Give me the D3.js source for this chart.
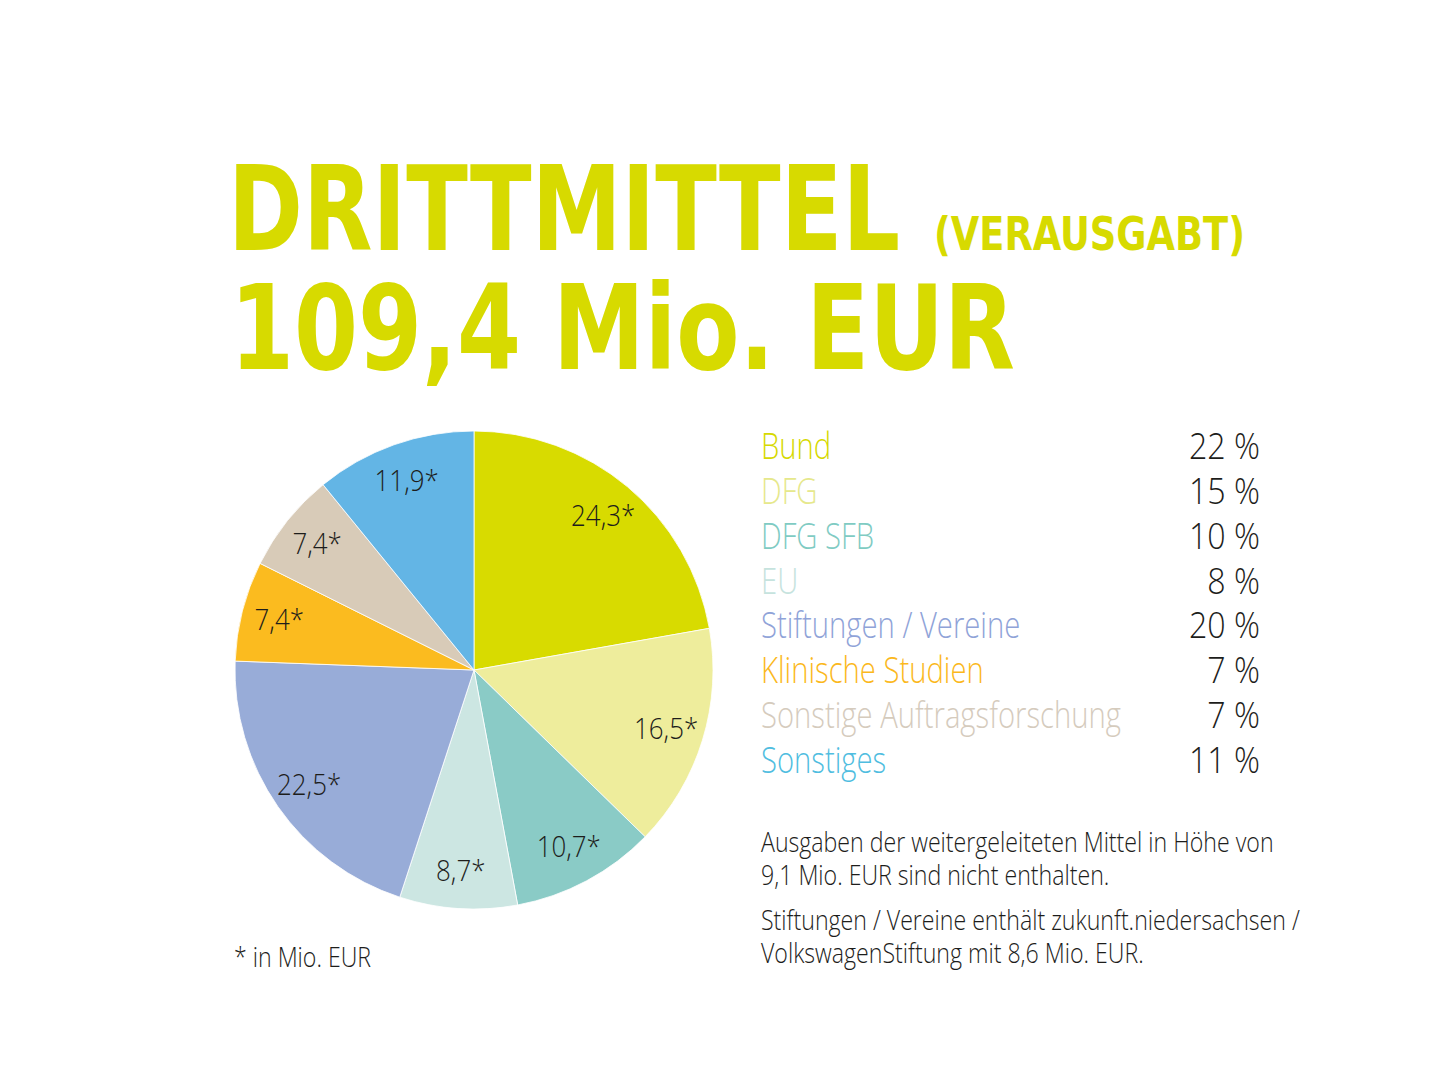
<!DOCTYPE html>
<html>
<head>
<meta charset="utf-8">
<script src="https://cdn.jsdelivr.net/npm/d3@7"></script>
<style>
  html, body { margin: 0; padding: 0; background: #fff; }
  svg { display: block; }
</style>
</head>
<body>
<svg id="chart" width="1443" height="1083"></svg>
<script>
// ---- data ----
const categories = ["Bund", "DFG", "DFG SFB", "EU", "Stiftungen / Vereine", "Klinische Studien", "Sonstige Auftragsforschung", "Sonstiges"];
const valuesMio = [24.3, 16.5, 10.7, 8.7, 22.5, 7.4, 7.4, 11.9];
const percentLabels = ["22 %", "15 %", "10 %", "8 %", "20 %", "7 %", "7 %", "11 %"];
const sliceColors = ["#d8db00", "#eeed9c", "#8acbc6", "#cce6e2", "#98acd8", "#fbbb1f", "#d8cbb8", "#63b5e5"];
const legendColors = ["#d6d900", "#e6e88c", "#7fcbc3", "#c6e3de", "#8fa3d8", "#fbb81c", "#d5cbbd", "#4fbde0"];
const titleLine1 = "DRITTMITTEL";
const titleSub = "(VERAUSGABT)";
const titleLine2 = "109,4 Mio. EUR";
const notes = [
  "Ausgaben der weitergeleiteten Mittel in Höhe von",
  "9,1 Mio. EUR sind nicht enthalten.",
  "Stiftungen / Vereine enthält zukunft.niedersachsen /",
  "VolkswagenStiftung mit 8,6 Mio. EUR."
];
const footnote = "* in Mio. EUR";

const fmt = v => d3.format(".1f")(v).replace(".", ",") + "*";

const svg = d3.select("#chart");
const titleColor = "#d7da00";
const inkColor = "#1d1d1b";
const titleFont = '"DejaVu Sans Condensed", "DejaVu Sans", sans-serif';
const bodyFont = '"Open Sans", "Liberation Sans", sans-serif';
const bodyWeight = 300;

// measure natural width of a string
function measure(str, family, size, weight) {
  const t = svg.append("text").attr("font-family", family).attr("font-size", size)
    .attr("font-weight", weight).text(str);
  const w = t.node().getComputedTextLength();
  t.remove();
  return w;
}

// horizontally condensed text placed at (x,y)
function condText(parent, x, y, str, family, size, weight, sx, fill, anchor) {
  const g = parent.append("g").attr("transform", `translate(${x},${y}) scale(${sx},1)`);
  g.append("text").attr("x", 0).attr("y", 0)
    .attr("font-family", family).attr("font-size", size).attr("font-weight", weight)
    .attr("fill", fill).attr("text-anchor", anchor || "start").text(str);
  return g;
}

// ---- title ----
const tSize = 118;
const tScale1 = 672 / measure(titleLine1, titleFont, tSize, "bold");
const tScale2 = 785 / measure(titleLine2, titleFont, tSize, "bold");
condText(svg, 228, 250, titleLine1, titleFont, tSize, "bold", tScale1, titleColor);
condText(svg, 230, 369, titleLine2, titleFont, tSize, "bold", tScale2, titleColor);
const sSize = 47;
const sScale = 311 / measure(titleSub, titleFont, sSize, "bold");
condText(svg, 934, 250, titleSub, titleFont, sSize, "bold", sScale, titleColor);

// condensation factors for body texts
const legSize = 36, noteSize = 27, pieSize = 29;
const textScale = 360 / measure("Sonstige Auftragsforschung", bodyFont, legSize, bodyWeight);
const numScale = 71 / measure("22 %", bodyFont, legSize, bodyWeight);
const noteScale = 513 / measure(notes[0], bodyFont, noteSize, bodyWeight);

// ---- pie ----
const cx = 474, cy = 670, R = 239, labelR = 201;
const pie = d3.pie().sort(null).value(d => d)(valuesMio);
const arc = d3.arc().innerRadius(0).outerRadius(R);
const labelArc = d3.arc().innerRadius(labelR).outerRadius(labelR);
const g = svg.append("g").attr("transform", `translate(${cx},${cy})`);
g.selectAll("path.slice").data(pie).enter().append("path")
  .attr("class", "slice")
  .attr("d", arc)
  .attr("fill", (d, i) => sliceColors[i])
  .attr("stroke", "#fff").attr("stroke-width", 0.8);
pie.forEach(d => {
  const [lx, ly] = labelArc.centroid(d);
  condText(g, lx, ly + 10, fmt(d.data), bodyFont, pieSize, bodyWeight, numScale, inkColor, "middle");
});

// ---- legend ----
const legY = d3.scalePoint().domain(categories).range([459, 773]);
const leg = svg.append("g");
categories.forEach((c, i) => {
  condText(leg, 761, legY(c), c, bodyFont, legSize, bodyWeight, textScale, legendColors[i], "start");
  condText(leg, 1260, legY(c), percentLabels[i], bodyFont, legSize, bodyWeight, numScale, inkColor, "end");
});

// ---- notes ----
const noteY = [852, 885, 930, 963];
notes.forEach((n, i) => condText(svg, 761, noteY[i], n, bodyFont, noteSize, bodyWeight, noteScale, inkColor, "start"));
condText(svg, 234, 967, footnote, bodyFont, noteSize, bodyWeight, noteScale, inkColor, "start");
</script>
</body>
</html>
